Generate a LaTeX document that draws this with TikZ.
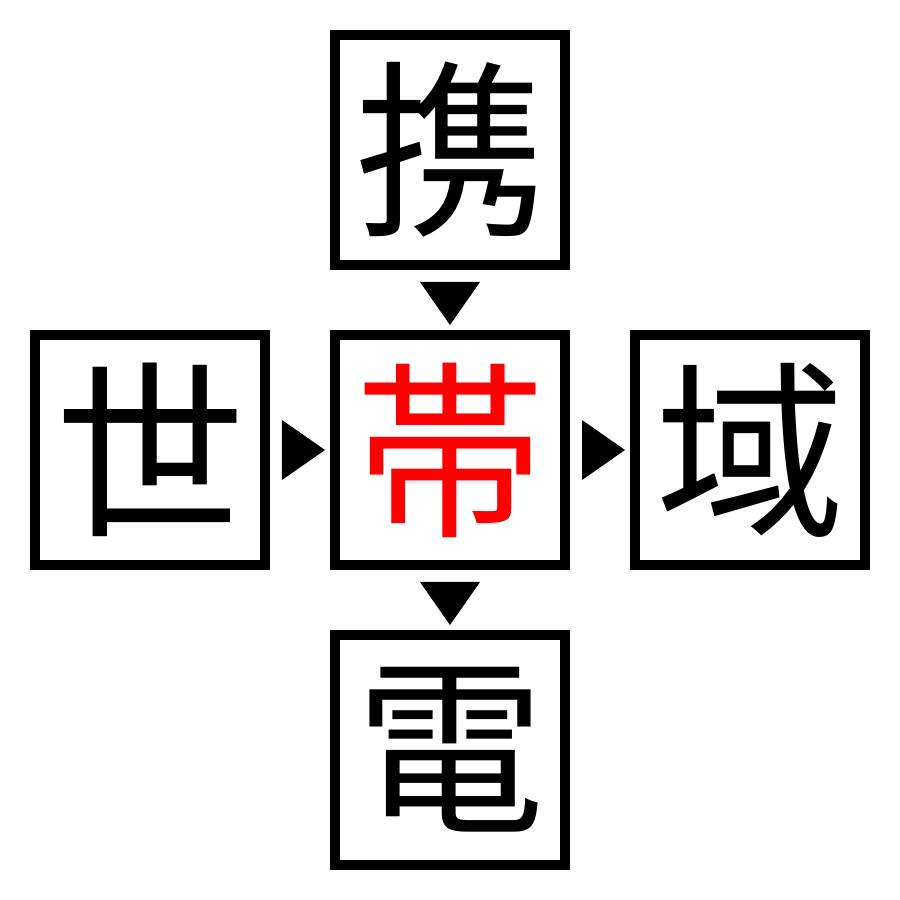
\documentclass[tikz,border=0pt]{standalone}
\usepackage{fontspec}
\newfontfamily\cjk{Noto Sans CJK JP}
\usetikzlibrary{positioning,calc}

\begin{document}
\begin{tikzpicture}[node distance=0.6cm,
			kanji/.style={draw, line width=0.1cm, minimum size=2.3cm, inner sep=0pt,
				font=\cjk\fontsize{54}{54}\selectfont}]
			\useasboundingbox (0,0) rectangle (9,9);
			\node[kanji, text=red] (obi) at (4.5,4.5) {帯};
			\node[kanji, above=of obi] (kei) {携};
			\node[kanji, below=of obi] (den) {電};
			\node[kanji, left=of obi] (yo) {世};
			\node[kanji, right=of obi] (iki) {域};
			% triangles
			\fill ($(kei.south)+(-0.3,-0.12)$) -- ++(0.6,0) -- ++(-0.3,-0.43) -- cycle;
			\fill ($(obi.south)+(-0.3,-0.12)$) -- ++(0.6,0) -- ++(-0.3,-0.43) -- cycle;
			\fill ($(yo.east)+(0.12,0.3)$) -- ++(0,-0.6) -- ++(0.43,0.3) -- cycle;
			\fill ($(obi.east)+(0.12,0.3)$) -- ++(0,-0.6) -- ++(0.43,0.3) -- cycle;
\end{tikzpicture}
\end{document}
